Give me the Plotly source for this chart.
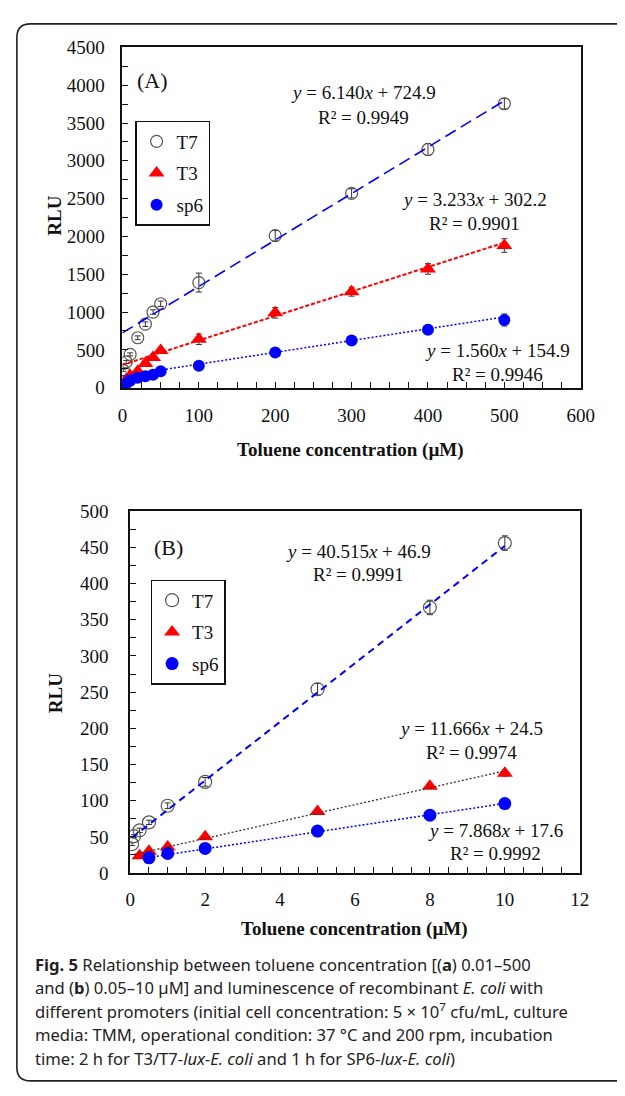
import plotly.graph_objects as go

# The page body keeps the browser's default 8px margin, so the figure is
# sized to fill the 625x1096 window exactly with that margin around it.
PAGE_W, PAGE_H, BODY_MARGIN = 625, 1096, 8
W, H = PAGE_W - 2 * BODY_MARGIN, PAGE_H - 2 * BODY_MARGIN

# ---------------- data: panel A (0.01-500 uM) ----------------
a_x = [0.01, 1, 5, 10, 20, 30, 40, 50, 100, 200, 300, 400, 500]
a_t7 = [80, 230, 340, 440, 660, 840, 1000, 1110, 1390, 2010, 2570, 3150, 3755]
a_t7_err = [15, 15, 20, 20, 25, 30, 30, 35, 125, 70, 60, 80, 70]
a_t3 = [15, 40, 110, 160, 216, 320, 400, 490, 640, 990, 1270, 1570, 1880]
a_t3_err = [5, 5, 10, 10, 15, 20, 20, 25, 70, 70, 60, 70, 90]
a_sp6 = [5, 30, 60, 90, 130, 151, 172, 216, 290, 465, 625, 765, 895]
a_sp6_err = [3, 3, 5, 5, 8, 8, 10, 10, 30, 30, 40, 60, 80]

# ---------------- data: panel B (0.05-10 uM) ----------------
b_t7_x = [0.05, 0.1, 0.25, 0.5, 1, 2, 5, 8, 10]
b_t7 = [40, 51, 59, 70, 93, 126, 254, 367, 456]
b_t7_err = [2, 2, 3, 3, 4, 6, 8, 10, 10]
b_t3_x = [0.25, 0.5, 1, 2, 5, 8, 10]
b_t3 = [24, 30, 36, 50, 85, 120, 138]
b_t3_err = [2, 2, 3, 3, 3, 3, 4]
b_sp6_x = [0.5, 1, 2, 5, 8, 10]
b_sp6 = [21, 27, 34, 58, 80, 96]
b_sp6_err = [2, 2, 2, 2, 2, 3]

# trend line equations printed on the chart (slope, intercept, x-extent)
a_fit = {"T7": (6.140, 724.9), "T3": (3.233, 302.2), "sp6": (1.560, 154.9)}
a_fit_x = [0, 500]
b_fit = {"T7": (40.515, 46.9), "T3": (11.666, 24.5), "sp6": (7.868, 17.6)}
b_fit_x = {"T7": [0.05, 10], "T3": [0.1, 10], "sp6": [0.5, 10]}

a_eq = {"T7": ("<i>y</i> = 6.140<i>x</i> + 724.9", "R² = 0.9949"),
        "T3": ("<i>y</i> = 3.233<i>x</i> + 302.2", "R² = 0.9901"),
        "sp6": ("<i>y</i> = 1.560<i>x</i> + 154.9", "R² = 0.9946")}
b_eq = {"T7": ("<i>y</i> = 40.515<i>x</i> + 46.9", "R² = 0.9991"),
        "T3": ("<i>y</i> = 11.666<i>x</i> + 24.5", "R² = 0.9974"),
        "sp6": ("<i>y</i> = 7.868<i>x</i> + 17.6", "R² = 0.9992")}

caption_lines = [
    "<b>Fig. 5</b> Relationship between toluene concentration [(<b>a</b>) 0.01–500",
    "and (<b>b</b>) 0.05–10 µM] and luminescence of recombinant <i>E. coli</i> with",
    "different promoters (initial cell concentration: 5 × 10<sup>7</sup> cfu/mL, culture",
    "media: TMM, operational condition: 37 °C and 200 rpm, incubation",
    "time: 2 h for T3/T7-<i>lux-E. coli</i> and 1 h for SP6-<i>lux-E. coli</i>)",
]

SERIF = "Liberation Serif, Times New Roman, serif"
BLUE = "#0000FF"
RED = "#FF0000"
GREY = "#555555"


def px(x):
    """page pixel x -> paper fraction"""
    return (x - BODY_MARGIN) / W


def py(y):
    """page pixel y -> paper fraction"""
    return 1 - (y - BODY_MARGIN) / H


fig = go.Figure()

# ---- panel A markers ----
err_style = dict(type="data", color="#333", thickness=1, width=3)
fig.add_trace(go.Scatter(x=a_x, y=a_t7, mode="markers", name="T7",
                         marker=dict(symbol="circle-open", size=12, color=GREY, line=dict(width=1.2)),
                         error_y=dict(array=a_t7_err, **err_style),
                         xaxis="x", yaxis="y", legend="legend", legendgroup="a1"))
fig.add_trace(go.Scatter(x=a_x, y=a_t3, mode="markers", name="T3",
                         marker=dict(symbol="triangle-up", size=14, color=RED),
                         error_y=dict(array=a_t3_err, **err_style),
                         xaxis="x", yaxis="y", legend="legend", legendgroup="a2"))
fig.add_trace(go.Scatter(x=a_x, y=a_sp6, mode="markers", name="sp6",
                         marker=dict(symbol="circle", size=12, color=BLUE),
                         error_y=dict(array=a_sp6_err, **err_style),
                         xaxis="x", yaxis="y", legend="legend", legendgroup="a3"))

a_line = {"T7": dict(color=BLUE, width=1.6, dash="12px,6px"),
          "T3": dict(color=RED, width=2, dash="4px,2px"),
          "sp6": dict(color=BLUE, width=1.5, dash="2px,2px")}
for k, (m, c) in a_fit.items():
    fig.add_trace(go.Scatter(x=a_fit_x, y=[m * v + c for v in a_fit_x], mode="lines",
                             line=a_line[k], showlegend=False, xaxis="x", yaxis="y",
                             hoverinfo="skip"))

# ---- panel B markers ----
fig.add_trace(go.Scatter(x=b_t7_x, y=b_t7, mode="markers", name="T7",
                         marker=dict(symbol="circle-open", size=13, color=GREY, line=dict(width=1.2)),
                         error_y=dict(array=b_t7_err, **err_style),
                         xaxis="x2", yaxis="y2", legend="legend2", legendgroup="b1"))
fig.add_trace(go.Scatter(x=b_t3_x, y=b_t3, mode="markers", name="T3",
                         marker=dict(symbol="triangle-up", size=14, color=RED),
                         error_y=dict(array=b_t3_err, **err_style),
                         xaxis="x2", yaxis="y2", legend="legend2", legendgroup="b2"))
fig.add_trace(go.Scatter(x=b_sp6_x, y=b_sp6, mode="markers", name="sp6",
                         marker=dict(symbol="circle", size=13, color=BLUE),
                         error_y=dict(array=b_sp6_err, **err_style),
                         xaxis="x2", yaxis="y2", legend="legend2", legendgroup="b3"))

b_line = {"T7": dict(color=BLUE, width=2, dash="7px,5px"),
          "T3": dict(color="#333333", width=1.3, dash="2px,2px"),
          "sp6": dict(color=BLUE, width=1.5, dash="2px,2px")}
for k, (m, c) in b_fit.items():
    xs = b_fit_x[k]
    fig.add_trace(go.Scatter(x=xs, y=[m * v + c for v in xs], mode="lines",
                             line=b_line[k], showlegend=False, xaxis="x2", yaxis="y2",
                             hoverinfo="skip"))

# ---- axes ----
tickfont = dict(family=SERIF, size=19, color="#111")
common = dict(showline=True, linecolor="#111", linewidth=1.6, mirror=True, ticks="inside",
              ticklen=6, tickwidth=1.2, tickcolor="#111", showgrid=False, zeroline=False,
              tickfont=tickfont)

fig.update_layout(
    xaxis=dict(domain=[px(121), px(594)], range=[0, 600], dtick=100, anchor="y",
               ticklabelstandoff=10, minor=dict(dtick=25, ticks="inside", ticklen=6, tickcolor="#111"),
               **common),
    yaxis=dict(domain=[py(385), py(38)], range=[0, 4500], dtick=500, anchor="x",
               ticklabelstandoff=12, minor=dict(dtick=250, ticks="inside", ticklen=6, tickcolor="#111"),
               **common),
    xaxis2=dict(domain=[px(129), px(593)], range=[0, 12], dtick=2, anchor="y2",
                ticklabelstandoff=8, minor=dict(dtick=0.5, ticks="inside", ticklen=6, tickcolor="#111"),
                **common),
    yaxis2=dict(domain=[py(880), py(511)], range=[0, 500], dtick=50, anchor="x2",
                ticklabelstandoff=16, minor=dict(dtick=25, ticks="inside", ticklen=6, tickcolor="#111"),
                **common),
)

legend_common = dict(bgcolor="white", bordercolor="#111", borderwidth=1.5,
                     font=dict(family=SERIF, size=19, color="#111"),
                     xanchor="left", yanchor="top", tracegroupgap=4, itemwidth=30,
                     traceorder="grouped")
fig.update_layout(
    legend=dict(x=px(134), y=py(113), **legend_common),
    legend2=dict(x=px(150), y=py(581), **legend_common),
)

ann = []
eqfont = dict(family=SERIF, size=19, color="#111")


def add_text(text, x, y, font=eqfont, xanchor="center", **kw):
    ann.append(dict(text=text, x=px(x), y=py(y), xref="paper", yref="paper",
                    showarrow=False, font=font, xanchor=xanchor, yanchor="middle", **kw))


add_text("(A)", 152, 72, font=dict(family=SERIF, size=22, color="#111"))
add_text("(B)", 168, 548, font=dict(family=SERIF, size=22, color="#111"))

a_pos = {"T7": (370, 84, 109), "T3": (484, 193, 218), "sp6": (508, 347, 372)}
for k, (cx, y1, y2) in a_pos.items():
    add_text(a_eq[k][0], cx, y1)
    add_text(a_eq[k][1], cx, y2)
b_pos = {"T7": (365, 552, 576), "T3": (481, 733, 757), "sp6": (506, 837, 860)}
for k, (cx, y1, y2) in b_pos.items():
    add_text(b_eq[k][0], cx, y1)
    add_text(b_eq[k][1], cx, y2)

titlefont = dict(family=SERIF, size=19, color="#111")
add_text("<b>RLU</b>", 50, 210, font=titlefont, textangle=-90)
add_text("<b>RLU</b>", 52, 697, font=titlefont, textangle=-90)
add_text("<b>Toluene concentration (µM)</b>", 356, 449, font=titlefont)
add_text("<b>Toluene concentration (µM)</b>", 361, 937, font=titlefont)

capfont = dict(family="Noto Sans, sans-serif", size=16.6, color="#222")
for i, line in enumerate(caption_lines):
    add_text(line, 29, 973 + 24 * i, font=capfont, xanchor="left")

fig.update_layout(annotations=ann)

# rounded outer frame (its right side runs off the page, as in the source)
x0, y0, x1, y1, r = 12, 14, 660, 1092, 14
rx, ry = r / W, r / H
path = (f"M {px(x0)},{py(y0) - ry} Q {px(x0)},{py(y0)} {px(x0) + rx},{py(y0)} "
        f"L {px(x1)},{py(y0)} L {px(x1)},{py(y1)} L {px(x0) + rx},{py(y1)} "
        f"Q {px(x0)},{py(y1)} {px(x0)},{py(y1) + ry} Z")
fig.update_layout(shapes=[dict(type="path", path=path, xref="paper", yref="paper",
                               line=dict(color="#222", width=1.6))])

fig.update_layout(width=W, height=H, margin=dict(l=0, r=0, t=0, b=0),
                  paper_bgcolor="white", plot_bgcolor="white", showlegend=True)

fig.write_html("out.html", config={"displayModeBar": False})
